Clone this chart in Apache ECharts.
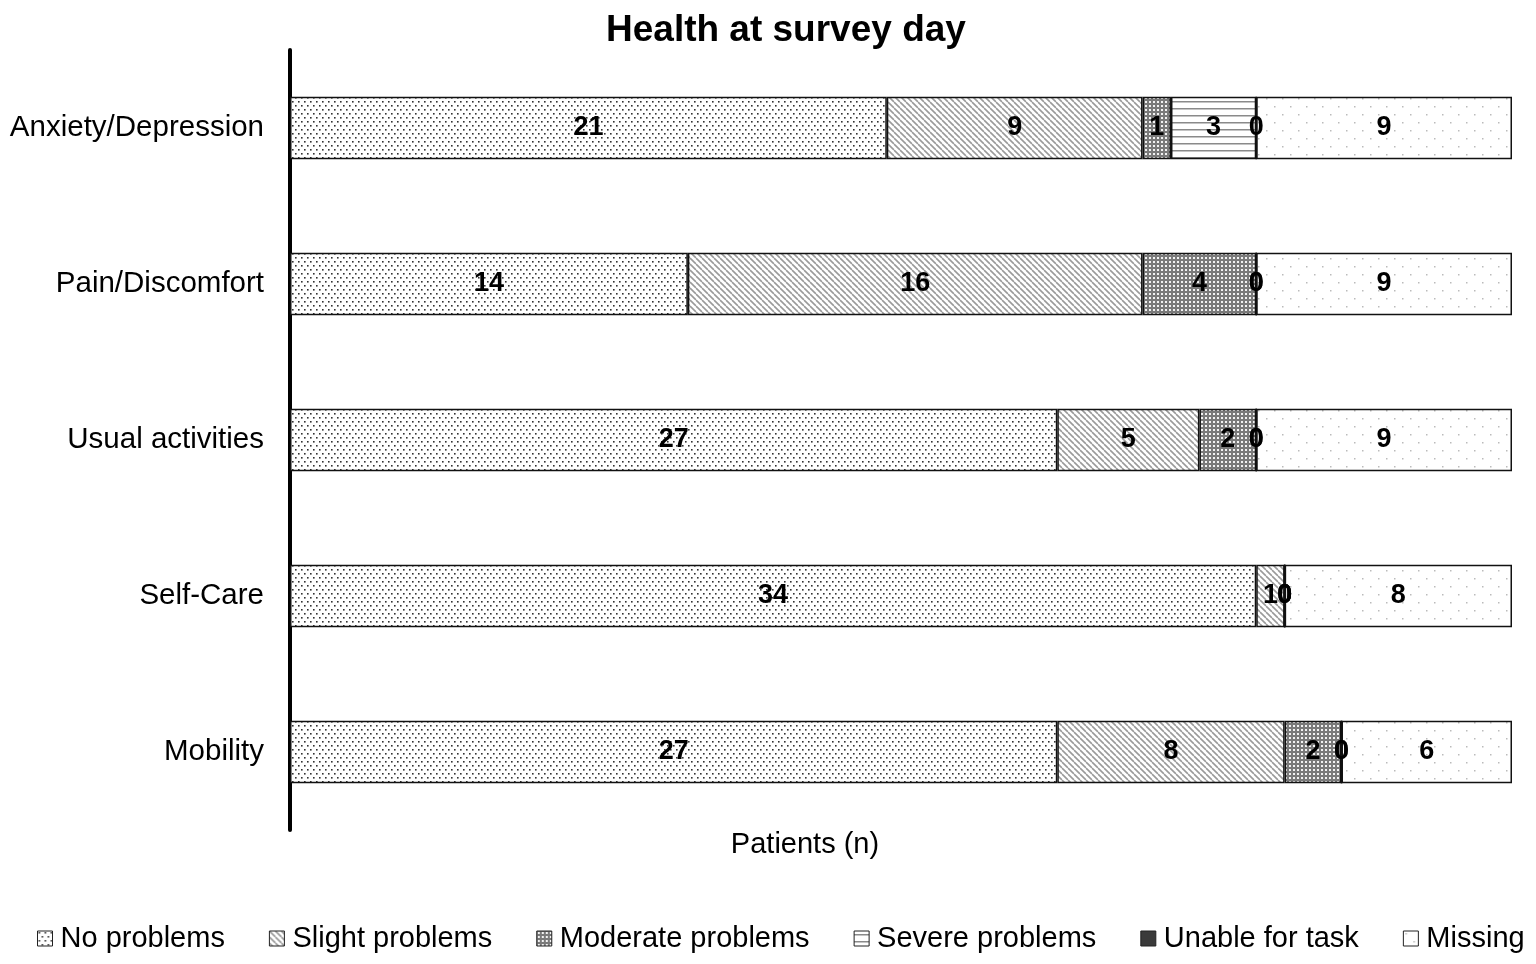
<!DOCTYPE html>
<html>
<head>
<meta charset="utf-8">
<script src="https://cdn.jsdelivr.net/npm/echarts@6/dist/echarts.min.js"></script>
<style>
  html, body { margin: 0; padding: 0; background: #fff; }
  #chart { width: 1536px; height: 964px; }
</style>
</head>
<body>
<div id="chart"></div>
<script>
// categories, bottom to top
var categories = ['Mobility', 'Self-Care', 'Usual activities', 'Pain/Discomfort', 'Anxiety/Depression'];
var noProblems = [27, 34, 27, 14, 21];
var slightProblems = [8, 1, 5, 16, 9];
var moderateProblems = [2, 0, 2, 4, 1];
var severeProblems = [0, 0, 0, 0, 3];
var unableForTask = [0, 0, 0, 0, 0];
var missing = [6, 8, 9, 9, 9];
var seriesNames = ['No problems', 'Slight problems', 'Moderate problems', 'Severe problems', 'Unable for task', 'Missing'];

// little canvas tiles used as hatch fills
function tile(w, h, draw) {
  var c = document.createElement('canvas')
  c.width = w; c.height = h
  var ctx = c.getContext('2d')
  draw(ctx, w, h)
  return { image: c, repeat: 'repeat' }
}
var patDots = tile(6, 8, function (ctx, w, h) {
  ctx.fillStyle = '#fff'; ctx.fillRect(0, 0, w, h)
  ctx.fillStyle = '#333'
  ctx.fillRect(1, 1, 1.6, 1.6)
  ctx.fillRect(4, 5, 1.6, 1.6)
})
var patDiag = tile(6, 6, function (ctx, w, h) {
  ctx.fillStyle = '#fff'; ctx.fillRect(0, 0, w, h)
  ctx.strokeStyle = '#9a9a9a'; ctx.lineWidth = 1.6
  for (var k = -2; k <= 2; k++) {
    ctx.beginPath(); ctx.moveTo(k * 6, 0); ctx.lineTo(k * 6 + 6, 6); ctx.stroke()
  }
})
var patGrid = tile(4, 4, function (ctx, w, h) {
  ctx.fillStyle = '#7a7a7a'; ctx.fillRect(0, 0, w, h)
  ctx.fillStyle = '#f2f2f2'; ctx.fillRect(1, 1, 2, 2)
})
var patHoriz = tile(8, 7, function (ctx, w, h) {
  ctx.fillStyle = '#fff'; ctx.fillRect(0, 0, w, h)
  ctx.fillStyle = '#8a8a8a'; ctx.fillRect(0, 3, w, 1.5)
})
var patSparse = tile(16, 16, function (ctx, w, h) {
  ctx.fillStyle = '#fff'; ctx.fillRect(0, 0, w, h)
  ctx.fillStyle = '#bbb'
  ctx.fillRect(2, 2, 1.5, 1.5)
  ctx.fillRect(10, 10, 1.5, 1.5)
})
var fills = [patDots, patDiag, patGrid, patHoriz, '#3a3a3a', patSparse]
var values = [noProblems, slightProblems, moderateProblems, severeProblems, unableForTask, missing]

var myChart = echarts.init(document.getElementById('chart'))
var series = seriesNames.map(function (name, i) {
  return {
    name: name,
    type: 'bar',
    stack: 'total',
    barWidth: '40%',
    data: values[i],
    itemStyle: { color: fills[i], borderColor: '#111', borderWidth: 1.5 },
    label: {
      show: true,
      position: 'inside',
      color: '#000',
      fontFamily: 'Liberation Sans',
      fontWeight: 'bold',
      fontSize: 27
    }
  }
})

myChart.setOption({
  animation: false,
  backgroundColor: '#fff',
  textStyle: { fontFamily: 'Liberation Sans' },
  title: {
    text: 'Health at survey day',
    left: 601,
    top: 7,
    textStyle: { fontFamily: 'Liberation Sans', fontWeight: 'bold', fontSize: 37, color: '#000' }
  },
  legend: {
    bottom: 6,
    left: 32,
    icon: 'rect',
    itemWidth: 15,
    itemHeight: 15,
    itemGap: 44,
    textStyle: { fontFamily: 'Liberation Sans', fontSize: 29, color: '#000', padding: [0, 0, 0, 3] },
    itemStyle: { borderColor: '#222', borderWidth: 1 },
    data: seriesNames
  },
  grid: { left: 290, right: 24, top: 50, bottom: 134 },
  xAxis: {
    type: 'value',
    min: 0,
    max: 43,
    name: 'Patients (n)',
    nameLocation: 'middle',
    nameGap: 0,
    nameTextStyle: { fontFamily: 'Liberation Sans', fontSize: 29, color: '#000', padding: [0, 192, 0, 0] },
    axisLine: { show: false },
    axisTick: { show: false },
    axisLabel: { show: false },
    splitLine: { show: false }
  },
  yAxis: {
    type: 'category',
    data: categories,
    axisLine: { show: true, lineStyle: { color: '#000', width: 4 } },
    axisTick: { show: false },
    axisLabel: { fontFamily: 'Liberation Sans', fontSize: 29.5, color: '#000', margin: 26 }
  },
  series: series
})
</script>
</body>
</html>
